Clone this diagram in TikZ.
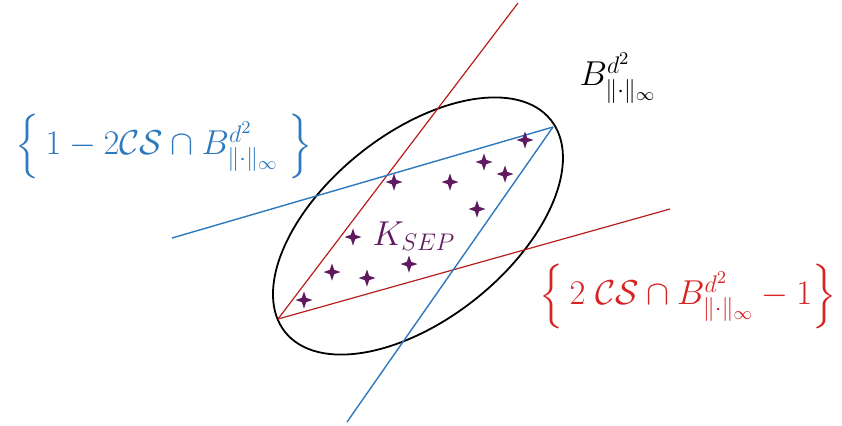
\documentclass[tikz,border=0pt]{standalone}
\usepackage{amsmath,amssymb}
\usepackage{tikz}
\usetikzlibrary{shapes.geometric}
\definecolor{setblue}{RGB}{45,120,190}
\definecolor{setred}{RGB}{215,35,35}
\definecolor{sepviolet}{RGB}{95,25,95}

\begin{document}
\begin{tikzpicture}[x=0.5pt, y=-0.5pt,
    bline/.style={draw=setblue, line width=0.7pt},
    rline/.style={draw=setred!85!black, line width=0.6pt},
    ball/.style={draw=black, line width=0.9pt},
    sample/.style={star, star points=4, star point ratio=2.8, fill=sepviolet, inner sep=0pt, minimum size=8.5pt},
    lab/.style={font=\fontsize{18}{22}\selectfont, inner sep=0pt},
  ]
  \useasboundingbox (0,0) rectangle (842,425);

  % corners of the separable set and free ends of the lines
  \coordinate (bl) at (278,319);
  \coordinate (tr) at (553,127);
  \coordinate (rtop) at (518,3);
  \coordinate (rright) at (670,209);
  \coordinate (bleft) at (172,238);
  \coordinate (bbot) at (347,422);
  \coordinate (ctr) at (418,226);

  % unit ball
  \draw [ball, rotate around={38.6:(ctr)}] (ctr) ellipse [x radius=170, y radius=93];

  % supporting lines
  \draw [rline] (rtop) -- (bl);
  \draw [rline] (bl) -- (rright);
  \draw [bline] (bleft) -- (tr);
  \draw [bline] (tr) -- (bbot);

  % separable samples
  \foreach \p [count=\i] in {(525,140),(484,162),(505,174),(394,182),(450,182),(477,209),
      (353,237),(409,264),(332,272),(367,278),(304,300)}
    \node [sample] (s\i) at \p {};

  % labels
  \node [text=sepviolet, font=\fontsize{18}{22}\selectfont] (ksep) at (414,236) {$K_{SEP}$};
  \node [lab] (ballname) at (618,78) {$B^{d^2}_{\|\cdot\|_\infty}$};
  \node [lab, text=setblue] (capblue) at (164,146)
    {$\left\{\,1-2\mathcal{CS}\cap B^{d^2}_{\|\cdot\|_\infty}\;\right\}$};
  \node [lab, text=setred] (capred) at (688,296)
    {$\left\{\,2\;\mathcal{CS}\cap B^{d^2}_{\|\cdot\|_\infty}-1\right\}$};
\end{tikzpicture}
\end{document}
